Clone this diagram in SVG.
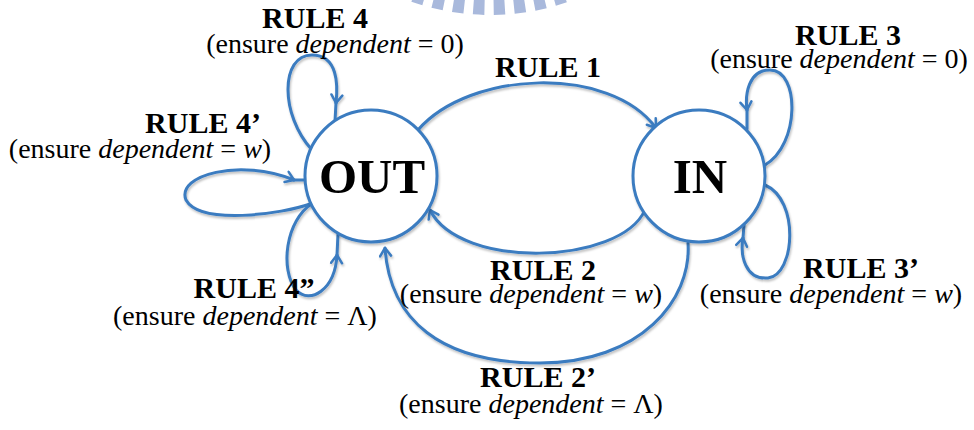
<svg xmlns="http://www.w3.org/2000/svg" width="974" height="430" viewBox="0 0 974 430">
<style>
.c{fill:none;stroke:#3b7bc0;stroke-width:3;stroke-linecap:round}
.n{fill:#fff;stroke:#3b7bc0;stroke-width:3}
.t{font-family:"Liberation Serif","Times New Roman",serif;fill:#000;text-anchor:middle}
.h{font-size:30px;font-weight:bold}
.s{font-size:28px}
.big{font-size:49px;font-weight:bold}
</style>
<defs>
<marker id="a" markerUnits="userSpaceOnUse" markerWidth="14" markerHeight="14" viewBox="0 0 14 14" refX="10" refY="7" orient="auto">
<path d="M2,1.5 L10,7 L2,12.5" fill="none" stroke="#3b7bc0" stroke-width="2.5" stroke-linecap="round" stroke-linejoin="round"/>
</marker>
<filter id="sh" x="-20%" y="-20%" width="140%" height="140%">
<feDropShadow dx="1" dy="2" stdDeviation="1.2" flood-color="#000" flood-opacity="0.25"/>
</filter>
</defs>
<path d="M415,-8.7 A228,228 0 0 0 565,-8.7" fill="none" stroke="#a9b9dc" stroke-width="22" stroke-dasharray="11 9"/>
<g id="connectors" filter="url(#sh)">
<path class="c" d="M418,130 C470,70 610,65 656,128" marker-end="url(#a)"/>
<path class="c" d="M645,210 C620,265 460,270 430,210" marker-end="url(#a)"/>
<path class="c" d="M688,243 C692,300 640,363 540,363 C440,363 390,320 385,248" marker-end="url(#a)"/>
<path class="c" d="M312,150 C280,115 280,55 312,55 C338,55 338,85 336,103" marker-end="url(#a)"/>
<path class="c" d="M336,103 L335,121"/>
<path class="c" d="M313,203 C280,215 200,225 186,200 C176,175 240,158 294,180" marker-end="url(#a)"/>
<path class="c" d="M294,180 L305,180"/>
<path class="c" d="M313,203 C285,220 280,270 296,290 C310,305 335,290 337,255" marker-end="url(#a)"/>
<path class="c" d="M337,255 L338,234"/>
<path class="c" d="M765,165 C800,145 800,70 770,70 C748,70 745,95 747,110" marker-end="url(#a)"/>
<path class="c" d="M747,110 L747,129"/>
<path class="c" d="M765,185 C800,200 795,275 768,278 C745,280 740,255 743,238" marker-end="url(#a)"/>
<path class="c" d="M743,238 L744,225"/>
</g>
<g id="OUT">
<circle class="n" cx="371" cy="176" r="66" filter="url(#sh)"/>
<text class="t big" x="372" y="193">OUT</text>
</g>
<g id="IN">
<circle class="n" cx="699" cy="176" r="66" filter="url(#sh)"/>
<text class="t big" x="700" y="193">IN</text>
</g>
<g id="labels">
<text class="t h" x="315" y="28">RULE 4</text>
<text class="t s" x="335" y="53">(ensure <tspan font-style="italic">dependent</tspan> = 0)</text>
<text class="t h" x="548" y="77">RULE 1</text>
<text class="t h" x="848" y="45">RULE 3</text>
<text class="t s" x="839" y="68">(ensure <tspan font-style="italic">dependent</tspan> = 0)</text>
<text class="t h" x="203" y="133">RULE 4’</text>
<text class="t s" x="140" y="158">(ensure <tspan font-style="italic">dependent</tspan> = <tspan font-style="italic">w</tspan>)</text>
<text class="t h" x="254" y="298">RULE 4”</text>
<text class="t s" x="245" y="325">(ensure <tspan font-style="italic">dependent</tspan> = Λ)</text>
<text class="t h" x="543" y="280">RULE 2</text>
<text class="t s" x="531" y="303">(ensure <tspan font-style="italic">dependent</tspan> = <tspan font-style="italic">w</tspan>)</text>
<text class="t h" x="538" y="387">RULE 2’</text>
<text class="t s" x="531" y="413">(ensure <tspan font-style="italic">dependent</tspan> = Λ)</text>
<text class="t h" x="861" y="278">RULE 3’</text>
<text class="t s" x="831" y="303">(ensure <tspan font-style="italic">dependent</tspan> = <tspan font-style="italic">w</tspan>)</text>
</g>
</svg>
